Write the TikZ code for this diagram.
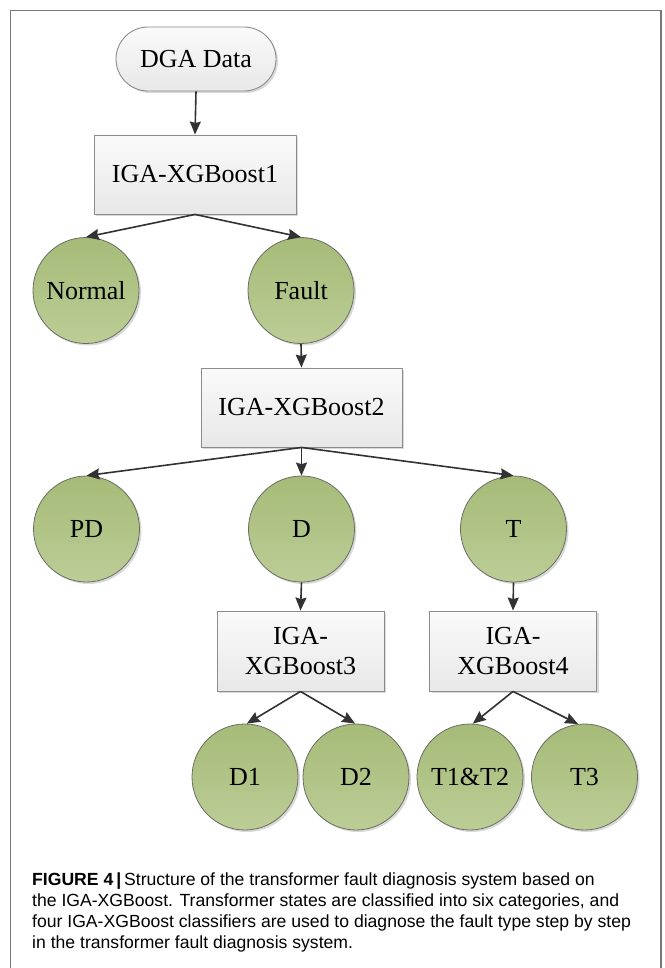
\documentclass[tikz,border=0pt]{standalone}
\usepackage{fontspec}
\setmainfont{Liberation Serif}
\newfontfamily\capfont{Liberation Sans}
\usetikzlibrary{arrows.meta,shadows}
\definecolor{framegray}{RGB}{120,120,120}
\definecolor{arrowgray}{RGB}{50,50,50}
\definecolor{circtop}{RGB}{166,187,120}
\definecolor{circbot}{RGB}{188,205,150}
\definecolor{circline}{RGB}{105,110,100}
\definecolor{boxtop}{RGB}{250,250,250}
\definecolor{boxbot}{RGB}{232,232,232}
\definecolor{boxline}{RGB}{140,140,140}
\tikzset{
  shad/.style={drop shadow={shadow xshift=2pt,shadow yshift=-2pt,opacity=0.25,fill=black!60}},
  cls/.style={circle,minimum size=106pt,inner sep=0pt,draw=circline,line width=0.8pt,
    top color=circtop,bottom color=circbot,shad,font=\fontsize{26}{30}\selectfont},
  clf/.style={rectangle,minimum height=79pt,inner sep=0pt,draw=boxline,line width=0.9pt,
    top color=boxtop,bottom color=boxbot,shad,align=center,font=\fontsize{26}{30}\selectfont},
  startnode/.style={rectangle,rounded corners=32pt,minimum width=160pt,minimum height=64pt,inner sep=0pt,
    draw=boxline,line width=0.9pt,top color=boxtop,bottom color=boxbot,shad,font=\fontsize{26}{30}\selectfont},
  arr/.style={draw=arrowgray,line width=1.6pt,-{Stealth[length=13pt,width=11pt,inset=1.5pt]}},
  captxt/.style={anchor=base west,inner sep=0pt,font=\capfont\fontsize{17.6}{21}\selectfont}
}
\begin{document}
\begin{tikzpicture}[x=1pt,y=-1pt]
\useasboundingbox (0,0) rectangle (664,968);
\draw[framegray,line width=1.5pt] (10.5,975) -- (10.5,10.5) -- (661,10.5) -- (661,975);

\node[startnode] (dga) at (196,59) {DGA Data};
\node[clf,minimum width=202pt] (b1) at (195,174.5) {IGA-XGBoost1};
\node[cls] (normal) at (86,290.5) {Normal};
\node[cls] (fault) at (301,290.5) {Fault};
\node[clf,minimum width=201pt] (b2) at (301.5,407.5) {IGA-XGBoost2};
\node[cls] (pd) at (86.5,529) {PD};
\node[cls] (d) at (301.5,529) {D};
\node[cls] (t) at (513.5,529) {T};
\node[clf,minimum width=167pt,minimum height=80pt] (b3) at (300.5,651) {IGA-\\XGBoost3};
\node[clf,minimum width=167pt,minimum height=80pt] (b4) at (513,651) {IGA-\\XGBoost4};
\node[cls] (d1) at (245,777) {D1};
\node[cls] (d2) at (356,777) {D2};
\node[cls] (t12) at (470,777) {T1\&T2};
\node[cls] (t3) at (584.5,777) {T3};

\draw[arr] (dga.south) -- (b1.north);
\draw[arr] (b1.south) -- (normal.north);
\draw[arr] (b1.south) -- (fault.north);
\draw[arr] (fault.south) -- (b2.north);
\draw[arr] (b2.south) -- (pd.north);
\draw[arr] (b2.south) -- (d.north);
\draw[arr] (b2.south) -- (t.north);
\draw[arr] (d.south) -- (b3.north);
\draw[arr] (t.south) -- (b4.north);
\draw[arr] (b3.south) -- (d1.88);
\draw[arr] (b3.south) -- (d2.91);
\draw[arr] (b4.south) -- (t12.87);
\draw[arr] (b4.south) -- (t3.97);

\node[captxt] (cap1) at (32,885) {\textbf{FIGURE 4\,|}\,Structure of the transformer fault diagnosis system based on};
\node[captxt] (cap2) at (32,906) {the IGA-XGBoost. Transformer states are classified into six categories, and};
\node[captxt] (cap3) at (32,927) {four IGA-XGBoost classifiers are used to diagnose the fault type step by step};
\node[captxt] (cap4) at (32,948) {in the transformer fault diagnosis system.};
\end{tikzpicture}
\end{document}
